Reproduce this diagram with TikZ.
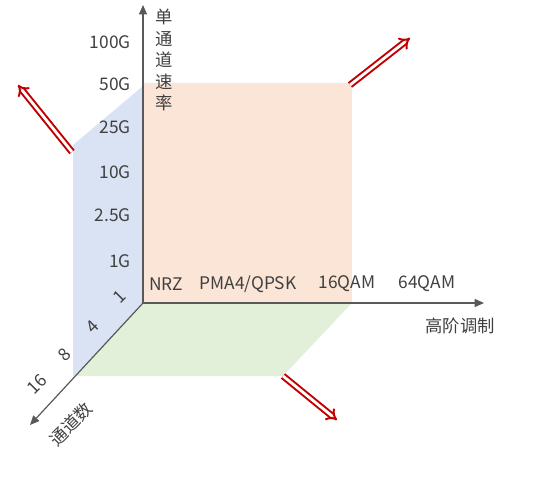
\documentclass[tikz,border=0pt]{standalone}
\usepackage{fontspec}
\setmainfont{Noto Sans CJK SC}
\usetikzlibrary{arrows.meta}
\definecolor{orangefill}{HTML}{FBE5D6}
\definecolor{bluefill}{HTML}{DAE3F3}
\definecolor{greenfill}{HTML}{E2F0D9}
\definecolor{labgray}{HTML}{404040}
\definecolor{axisgray}{HTML}{595959}
\definecolor{darkred}{HTML}{C00000}
\begin{document}
\begin{tikzpicture}[x=0.75pt,y=-0.75pt,
  lab/.style={font=\fontsize{13}{15}\selectfont, text=labgray, inner sep=0pt},
  axisline/.style={draw=axisgray, line width=0.9pt, -{Triangle[length=7pt,width=6pt]}},
  redarrow/.style={draw=darkred, line width=1.5pt, double=white, double distance=2.1pt, -{Implies[scale=1.5]}}]
\useasboundingbox (0,0) rectangle (536,483);
% planes
\fill[orangefill] (143,83) rectangle (352,303);
\fill[bluefill] (143,86) -- (73,145) -- (73,376) -- (75.4,376) -- (143,303) -- cycle;
\fill[greenfill] (143,303) -- (352,303) -- (283,376) -- (75.4,376) -- cycle;
% axes
\coordinate (O) at (143,303);
\coordinate (ytip) at (143,5);
\coordinate (xtip) at (484,303);
\coordinate (ztip) at (30,425);
\draw[axisline] (O) -- (ytip);
\draw[axisline] (O) -- (xtip);
\draw[axisline] (O) -- (ztip);
% y labels
\node[lab, anchor=east] (y100) at (131,42) {100G};
\node[lab, anchor=east] (y50) at (131,84) {50G};
\node[lab, anchor=east] (y25) at (131,127) {25G};
\node[lab, anchor=east] (y10) at (131,172) {10G};
\node[lab, anchor=east] (y25b) at (131,215) {2.5G};
\node[lab, anchor=east] (y1) at (131,261) {1G};
\node[lab, align=center, font=\fontsize{13}{16.1}\selectfont] (ytitle) at (164,60) {单\\通\\道\\速\\率};
% x labels
\node[lab] (xnrz) at (166,284) {NRZ};
\node[lab] (xpma) at (248,284) {PMA4/QPSK};
\node[lab] (x16) at (347,284) {16QAM};
\node[lab] (x64) at (427,284) {64QAM};
\node[lab] (xtitle) at (460,326) {高阶调制};
% z labels
\node[lab, rotate=45] (z1) at (120,297) {1};
\node[lab, rotate=45] (z4) at (93,327) {4};
\node[lab, rotate=45] (z8) at (65,355) {8};
\node[lab, rotate=45] (z16) at (37,384) {16};
\node[lab, rotate=45] (ztitle) at (71,424) {通道数};
% red arrows
\coordinate (a1s) at (72,152); \coordinate (a1e) at (18,85);
\coordinate (a2s) at (350,85); \coordinate (a2e) at (410,38);
\coordinate (a3s) at (283,376); \coordinate (a3e) at (337,420);
\draw[redarrow] (a1s) -- (a1e);
\draw[redarrow] (a2s) -- (a2e);
\draw[redarrow] (a3s) -- (a3e);
\end{tikzpicture}
\end{document}
